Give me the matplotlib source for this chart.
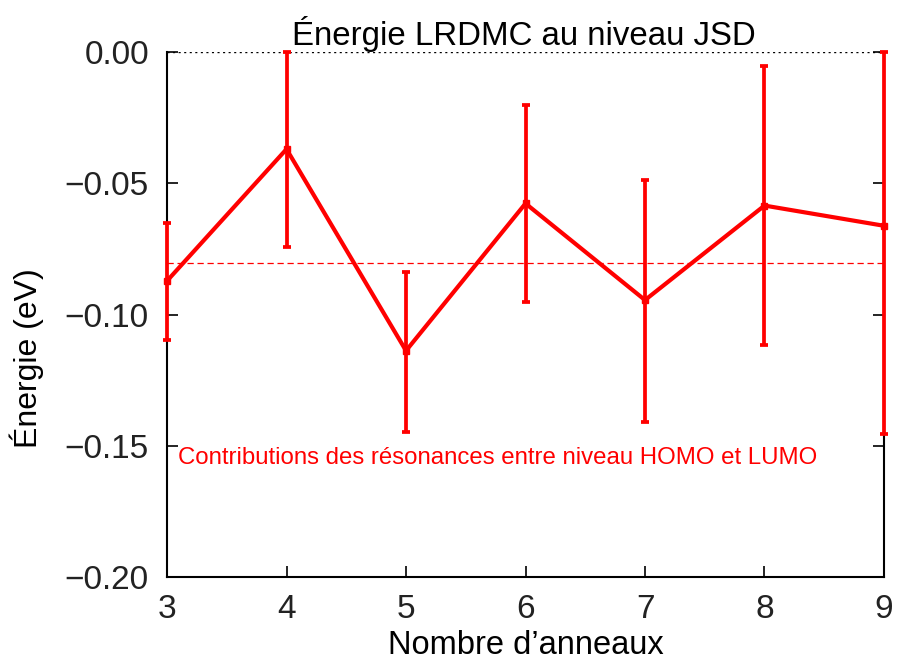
import matplotlib
matplotlib.use("Agg")
import matplotlib.pyplot as plt
import numpy as np

plt.rcParams['font.family'] = ['Liberation Sans', 'DejaVu Sans']

# Number of rings and LRDMC energies (eV)
rings = [3, 4, 5, 6, 7, 8, 9]
energy = [-0.0872, -0.0370, -0.1138, -0.0577, -0.0945, -0.0585, -0.0662]
err_low = [0.0226, 0.0373, 0.0310, 0.0374, 0.0465, 0.0531, 0.0793]
err_high = [0.0222, 0.0370, 0.0301, 0.0375, 0.0457, 0.0532, 0.0662]
reference_level = -0.0805

yticks = [0.0, -0.05, -0.10, -0.15, -0.20]
ytick_labels = ['0.00', '\u22120.05', '\u22120.10', '\u22120.15', '\u22120.20']

fig = plt.figure(figsize=(8.97, 6.64), dpi=100)
ax = fig.add_axes([0.1862, 0.1310, 0.7993, 0.7907])

red = '#ff0000'
ax.axhline(0.0, color='black', lw=1.0, ls=(0, (1.5, 2.5)), zorder=1)
ax.axhline(reference_level, color=red, lw=0.9, ls=(0, (5, 3)), zorder=1)

ax.errorbar(rings, energy, yerr=[err_low, err_high], color=red, lw=3.0,
            elinewidth=2.7, capsize=3.2, capthick=2.7, marker='s', ms=4.5,
            zorder=3, clip_on=False)

ax.set_xlim(3, 9)
ax.set_ylim(-0.20, 0.0)
ax.set_xticks(rings)
ax.set_yticks(yticks)
ax.set_yticklabels(ytick_labels)

for s in ['left', 'bottom', 'right']:
    ax.spines[s].set_linewidth(1.5)
    ax.spines[s].set_color('black')
ax.spines['top'].set_visible(False)

ax.tick_params(axis='both', direction='in', length=8, width=1.2,
               labelsize=24, labelcolor='#222222')
ax.tick_params(axis='y', right=True, left=True, pad=13)
ax.tick_params(axis='x', top=False, pad=12)

ax.set_xlabel("Nombre d\u2019anneaux", fontsize=23.5, labelpad=4)
ax.set_ylabel("\u00c9nergie (eV)", fontsize=23, labelpad=12)
ax.yaxis.set_label_coords(-0.172, 0.417)
fig.text(0.5836, 0.932, "\u00c9nergie LRDMC au niveau JSD", fontsize=23.8,
         ha='center', va='baseline')

ax.text(3.09, -0.1547, "Contributions des r\u00e9sonances entre niveau HOMO et LUMO",
        color=red, fontsize=17.3, ha='left', va='center')

fig.savefig("out.png", dpi=100)
